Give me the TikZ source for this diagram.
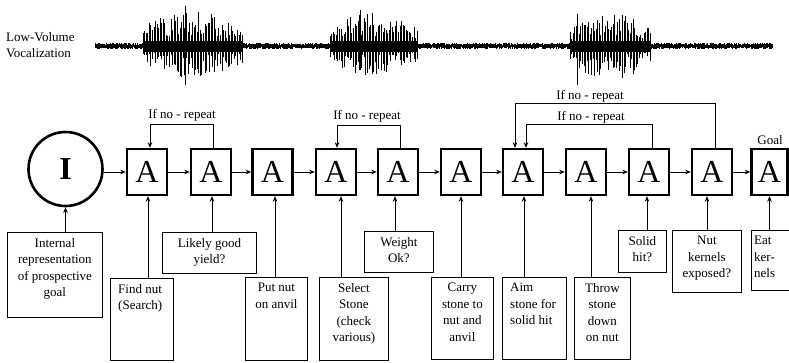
\documentclass[tikz,border=0pt]{standalone}
\usepackage{fontspec}
\setmainfont{Liberation Serif}
\usetikzlibrary{arrows.meta}
\newcommand\wburst[5]{%
  \fill (#1,41) rectangle (#2,52);
  \foreach \i in {0,...,#5} {
    \pgfmathsetmacro\ff{\i/#5}
    \pgfmathsetmacro\xx{#1+\ff*(#2-#1)}
    \pgfmathsetmacro\env{0.55+0.45*sin(180*\ff)}
    \pgfmathsetmacro\uu{#3*\env*(0.3+0.7*rnd)}
    \pgfmathsetmacro\dd{#4*\env*(0.25+0.75*rnd)}
    \draw[line width=0.65pt] (\xx,46-\uu) -- (\xx,46+\dd);
  }%
}
\begin{document}
\begin{tikzpicture}[x=1pt,y=-1pt,
  abox/.style={draw, line width=2.4pt, minimum width=40pt, minimum height=46pt, inner sep=0pt, font=\fontsize{32}{32}\selectfont},
  bbox/.style={draw, line width=0.8pt, inner sep=0pt, anchor=north west},
  lbl/.style={font=\fontsize{13}{16.5}\selectfont, inner sep=0pt},
  btxt/.style={lbl, align=center, anchor=north},
  ltxt/.style={lbl, align=left, anchor=north west},
  arr/.style={line width=0.9pt, -{Stealth[length=5.5pt,width=4.5pt]}},
  ]
\useasboundingbox (0,0) rectangle (789,362);
\fill[white] (0,0) rectangle (789,362);

% ---- waveform ----
\pgfmathsetseed{7}
\foreach \x in {95,96,...,772} {
  \pgfmathsetmacro\uu{1.3+2*rnd}
  \pgfmathsetmacro\dd{1.3+2*rnd}
  \draw[line width=1pt] (\x,46-\uu) -- (\x,46+\dd);
}
\wburst{143}{242}{36}{32}{64}
\wburst{330}{417}{34}{30}{56}
\wburst{570}{650}{34}{34}{52}
\draw[line width=0.9pt] (185,6) -- (185,85);
\draw[line width=0.9pt] (577,14) -- (577,85);
\draw[line width=0.9pt] (360,10) -- (360,70);

\node[lbl, align=left, anchor=west] (lv) at (6,45) {Low-Volume\\Vocalization};

% ---- main chain ----
\node[draw, circle, line width=2.6pt, minimum size=74pt, inner sep=0pt,
      font=\fontsize{32}{32}\selectfont\bfseries] (I) at (65.5,169) {I};
\node[abox] (a1) at (147,172) {A};
\node[abox] (a2) at (211,172) {A};
\node[abox] (a3) at (272.5,172) {A};
\node[abox] (a4) at (336,172) {A};
\node[abox] (a5) at (398,172) {A};
\node[abox] (a6) at (461,172) {A};
\node[abox] (a7) at (523,172) {A};
\node[abox] (a8) at (586,172) {A};
\node[abox] (a9) at (649,172) {A};
\node[abox] (a10) at (712,172) {A};
\node[abox, minimum width=36pt] (a11) at (769.5,172) {A};

\draw[arr] (I.east |- a1) -- (a1.west);
\foreach \i/\j in {1/2,2/3,3/4,4/5,5/6,6/7,7/8,8/9,9/10,10/11}
  \draw[arr] (a\i) -- (a\j);

% ---- repeat loops ----
\draw[arr] ([xshift=2pt]a2.north) -- ++(0,-23) -| ([xshift=3pt]a1.north);
\draw[arr] ([xshift=2pt]a5.north) -- ++(0,-22) -| ([xshift=1pt]a4.north);
\draw[arr] ([xshift=3pt]a9.north) -- ++(0,-23) -| ([xshift=3pt]a7.north);
\draw[arr] ([xshift=3pt]a10.north) -- ++(0,-44) -| ([xshift=-8pt]a7.north);

\node[lbl] (l1) at (182,115) {If no - repeat};
\node[lbl] (l2) at (367,116) {If no - repeat};
\node[lbl] (l3) at (591,117) {If no - repeat};
\node[lbl] (l4) at (590,96) {If no - repeat};
\node[lbl] (goal) at (770,140) {Goal};

% ---- bottom boxes ----
\node[bbox, minimum width=95pt, minimum height=85pt] (b0) at (7,232) {};
\node[bbox, minimum width=63pt, minimum height=82pt] (b1) at (110,278) {};
\node[bbox, minimum width=94pt, minimum height=41pt] (b2) at (162,232) {};
\node[bbox, minimum width=62pt, minimum height=83pt] (b3) at (245,277) {};
\node[bbox, minimum width=69pt, minimum height=83pt] (b4) at (319,277) {};
\node[bbox, minimum width=69pt, minimum height=41pt] (b5) at (364,231) {};
\node[bbox, minimum width=62pt, minimum height=82pt] (b6) at (431,277) {};
\node[bbox, minimum width=64pt, minimum height=82pt] (b7) at (502,277) {};
\node[bbox, minimum width=56pt, minimum height=82pt] (b8) at (574,277) {};
\node[bbox, minimum width=48pt, minimum height=42pt] (b9) at (618,230) {};
\node[bbox, minimum width=69pt, minimum height=62pt] (b10) at (672,230) {};
\node[bbox, minimum width=40pt, minimum height=60pt] (b11) at (751,230) {};

\node[btxt] (t0) at ([yshift=-6pt]b0.north) {Internal\\representation\\of prospective\\goal};
\node[ltxt] (t1) at ([xshift=8pt,yshift=-6pt]b1.north west) {Find nut\\(Search)};
\node[btxt] (t2) at ([yshift=-6pt]b2.north) {Likely good\\yield?};
\node[btxt] (t3) at ([yshift=-6pt]b3.north) {Put nut\\on anvil};
\node[btxt] (t4) at ([yshift=-6pt]b4.north) {Select\\Stone\\(check\\various)};
\node[btxt] (t5) at ([yshift=-6pt]b5.north) {Weight\\Ok?};
\node[btxt] (t6) at ([yshift=-6pt]b6.north) {Carry\\stone to\\nut and\\anvil};
\node[ltxt] (t7) at ([xshift=8pt,yshift=-6pt]b7.north west) {Aim\\stone for\\solid hit};
\node[btxt] (t8) at ([yshift=-6pt]b8.north) {Throw\\stone\\down\\on nut};
\node[btxt] (t9) at ([yshift=-6pt]b9.north) {Solid\\hit?};
\node[btxt] (t10) at ([yshift=-6pt]b10.north) {Nut\\kernels\\exposed?};
\node[ltxt] (t11) at ([xshift=3pt,yshift=-6pt]b11.north west) {Eat\\ker-\\nels};

% ---- inputs ----
\draw[arr] (b0.north -| I.south) -- (I.south);
\foreach \i/\dx in {1/1,2/1,3/2.5,4/5,5/-3,6/0,7/1,8/5,9/-2,10/-5,11/0} {
  \coordinate (p\i) at ([xshift=\dx pt]a\i.south);
  \draw[arr] (b\i.north -| p\i) -- (p\i);
}
\end{tikzpicture}
\end{document}
